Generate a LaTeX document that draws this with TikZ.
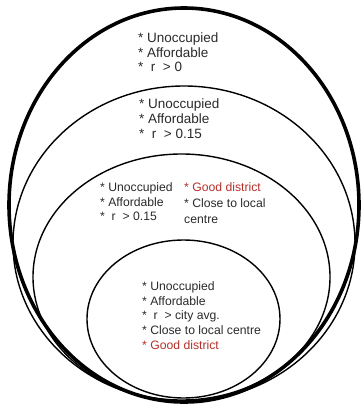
\documentclass[tikz,border=0pt]{standalone}
\usepackage{fontspec}
\setmainfont{Liberation Sans}
\definecolor{txtgray}{HTML}{2A2A2A}
\definecolor{goodred}{HTML}{B5302A}
\begin{document}
\begin{tikzpicture}[
  x=1pt, y=-1pt,
  ring/.style={draw, line width=1.4pt},
  outerring/.style={draw, line width=3.6pt},
  crit/.style={anchor=north west, inner sep=0pt, align=left, text=txtgray,
    font=\fontsize{13.5}{14.7}\selectfont},
  small/.style={font=\fontsize{12.2}{14.7}\selectfont},
  wide/.style={font=\fontsize{12.2}{16}\selectfont}
]
  \useasboundingbox (0,0) rectangle (364,407);

  % Ringe von aussen nach innen
  \draw[outerring] (184,205) ellipse [x radius=175pt, y radius=197pt];
  \draw[ring] (184,243.5) ellipse [x radius=171pt, y radius=157.5pt];
  \draw[ring] (181.5,277) ellipse [x radius=148.5pt, y radius=123pt];
  \draw[ring] (183.5,319) ellipse [x radius=96.5pt, y radius=79pt];

  % Texte
  \node[crit] (allg) at (138,32.5) {* Unoccupied\\* Affordable\\*~~r~~> 0};
  \node[crit] (rend) at (139,99) {* Unoccupied\\* Affordable\\*~~r~~> 0.15};
  \node[crit, small] (lageL) at (100,182.5) {* Unoccupied\\* Affordable\\*~~r~~> 0.15};
  \node[crit, wide] (lageR) at (184,182.5)
    {\textcolor{goodred}{* Good district}\\* Close to local\\centre};
  \node[crit, small] (best) at (142,281.5)
    {* Unoccupied\\* Affordable\\*~~r~~> city avg.\\* Close to local centre\\
     \textcolor{goodred}{* Good district}};
\end{tikzpicture}
\end{document}
